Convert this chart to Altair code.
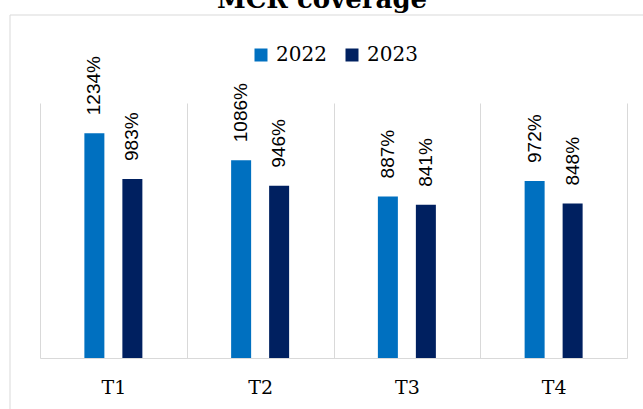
import altair as alt
import pandas as pd

quarters = ["T1", "T2", "T3", "T4"]
years = ["2022", "2023"]
values_2022 = [1234, 1086, 887, 972]
values_2023 = [983, 946, 841, 848]
colors = ["#0070C0", "#002060"]
title_text = "MCR coverage"

rows = []
for q, a, b in zip(quarters, values_2022, values_2023):
    rows.append({"quarter": q, "year": "2022", "value": a, "label": f"{a}%"})
    rows.append({"quarter": q, "year": "2023", "value": b, "label": f"{b}%"})
df = pd.DataFrame(rows)

x_enc = alt.X(
    "quarter:N",
    sort=quarters,
    scale=alt.Scale(paddingInner=0, paddingOuter=0),
    axis=alt.Axis(
        title=None,
        labelAngle=0,
        grid=True,
        gridColor="#d9d9d9",
        gridWidth=1,
        tickBand="extent",
        ticks=False,
        tickSize=0,
        domainColor="#d9d9d9",
        domainWidth=1,
        labelFont="DejaVu Serif",
        labelFontSize=19,
        labelColor="#000000",
        labelBaseline="alphabetic",
        labelPadding=35,
    ),
)
xo_enc = alt.XOffset("year:N", sort=years, scale=alt.Scale(paddingInner=0, paddingOuter=0.931))
y_enc = alt.Y("value:Q", scale=alt.Scale(domain=[0, 1400]), axis=None)

base = alt.Chart(df)

bars = base.mark_bar(width=20).encode(
    x=x_enc,
    xOffset=xo_enc,
    y=y_enc,
    color=alt.Color(
        "year:N",
        sort=years,
        scale=alt.Scale(domain=years, range=colors),
        legend=alt.Legend(
            title=None,
            orient="none",
            legendX=211,
            legendY=-58,
            direction="horizontal",
            symbolType="square",
            symbolSize=169,
            symbolStrokeWidth=0,
            labelFont="DejaVu Serif",
            labelFontSize=20,
            labelColor="#000000",
            labelOffset=5,
            columnPadding=15,
        ),
    ),
)

labels = base.mark_text(
    angle=270, align="left", baseline="middle", dx=18,
    font="Liberation Sans", fontSize=19, color="#000000",
).encode(x=x_enc, xOffset=xo_enc, y=y_enc, text="label:N")

border = alt.Chart(pd.DataFrame({"a": [0]})).mark_rect(
    fill=None, stroke="#d9d9d9", strokeWidth=1
).encode(x=alt.value(-30), x2=alt.value(640), y=alt.value(-88), y2=alt.value(330))

title = alt.Chart(pd.DataFrame({"t": [title_text]})).mark_text(
    font="DejaVu Serif", fontWeight="bold", fontSize=26, color="#000000",
    align="center", baseline="alphabetic",
).encode(x=alt.value(282), y=alt.value(-95), text="t:N")

chart = alt.layer(border, bars, labels, title).properties(
    width=587,
    height=255,
    autosize=alt.AutoSizeParams(type="none"),
    padding={"left": 40, "top": 103, "right": 16, "bottom": 51},
).configure(background="white").configure_view(stroke=None)

chart.save("out.html", embed_options={"renderer": "svg", "actions": False})
